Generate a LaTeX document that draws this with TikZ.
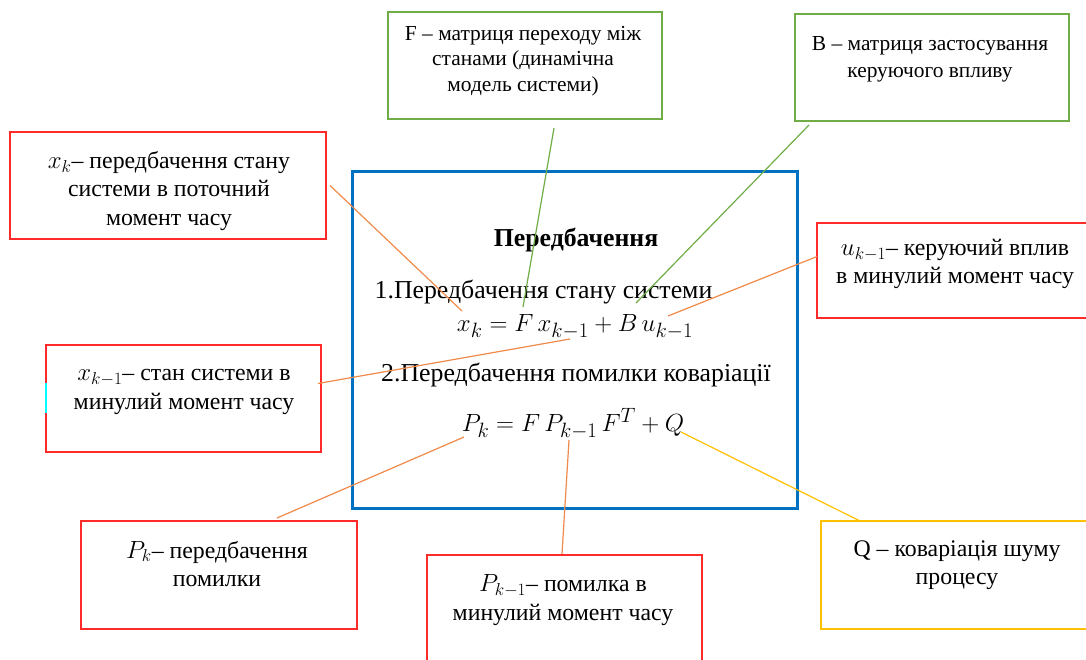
\documentclass[tikz,border=0pt]{standalone}
\usepackage{fontspec}
\setmainfont{Liberation Serif}
\definecolor{cRed}{HTML}{FF2A2A}
\definecolor{cGreen}{HTML}{70AD47}
\definecolor{cBlue}{HTML}{0070C0}
\definecolor{cOrange}{HTML}{F08A4B}
\definecolor{cYellow}{HTML}{FFC000}
\definecolor{cCyan}{HTML}{00FFFF}
\tikzset{
  box/.style={draw, line width=1.5pt, inner sep=0pt, outer sep=0pt, rectangle},
  redbox/.style={box, draw=cRed},
  greenbox/.style={box, draw=cGreen},
  yellowbox/.style={box, draw=cYellow},
  mainbox/.style={box, draw=cBlue, line width=3pt},
  lbl/.style={align=center, font=\fontsize{23.8}{28.5}\selectfont, inner sep=0pt},
  glbl/.style={align=center, font=\fontsize{21.4}{26.5}\selectfont, inner sep=0pt},
  mtext/.style={align=center, font=\fontsize{25.8}{30}\selectfont, inner sep=0pt},
  mform/.style={align=center, font=\fontsize{27.5}{30}\selectfont, inner sep=0pt},
  conn/.style={line width=1.2pt, draw=cOrange},
  gconn/.style={conn, draw=cGreen},
  yconn/.style={conn, draw=cYellow},
}
\begin{document}
\begin{tikzpicture}[x=1pt,y=-1pt]
\useasboundingbox (0,0) rectangle (1086,659);
\clip (0,0) rectangle (1086,659);
\fill[white] (0,0) rectangle (1086,659);

% boxes
\node[greenbox, minimum width=274pt, minimum height=107pt] (boxF) at (525,65.5) {};
\node[greenbox, minimum width=274pt, minimum height=107pt] (boxB) at (932,67.5) {};
\node[redbox, minimum width=316pt, minimum height=107pt] (boxXk) at (168,185.5) {};
\node[mainbox, minimum width=444.5pt, minimum height=337pt] (boxMain) at (575,339.5) {};
\node[redbox, minimum width=278pt, minimum height=95pt] (boxU) at (956,270.5) {};
\node[redbox, minimum width=275pt, minimum height=107pt] (boxXk1) at (183.5,398.5) {};
\node[redbox, minimum width=276pt, minimum height=108pt] (boxPk) at (219,575) {};
\node[redbox, minimum width=275pt, minimum height=110pt] (boxPk1) at (564.5,610) {};
\node[yellowbox, minimum width=274pt, minimum height=108pt] (boxQ) at (958,575) {};
\draw[cCyan, line width=1.5pt] (boxXk1.west) ++(0,-15.5) -- ++(0,30);

% texts
\node[glbl, font=\fontsize{21.4}{25.5}\selectfont] (txtF) at (523,61) {F – матриця переходу між\\станами (динамічна\\модель системи)};
\node[glbl] (txtB) at (930,59.5) {B – матриця застосування\\керуючого впливу};
\node[lbl] (txtXk) at (169,191) {$x_k$– передбачення стану\\системи в поточний\\момент часу};
\node[lbl] (txtU) at (955,264) {$u_{k-1}$– керуючий вплив\\в минулий момент часу};
\node[lbl] (txtXk1) at (184,392) {$x_{k-1}$– стан системи в\\минулий момент часу};
\node[lbl] (txtPk) at (217,564) {$P_k$– передбачення\\помилки};
\node[lbl] (txtPk1) at (563,600) {$P_{k-1}$– помилка в\\минулий момент часу};
\node[lbl] (txtQ) at (957,565) {Q – коваріація шуму\\процесу};

\node[mtext, font=\fontsize{25.8}{30}\selectfont\bfseries] (title) at (576,240) {Передбачення};
\node[mtext] (line1) at (543.5,292) {1.Передбачення стану системи};
\node[mform] (form1) at (575,327) {$x_k = F\,x_{k-1} + B\,u_{k-1}$};
\node[mtext] (line2) at (576,375) {2.Передбачення помилки коваріації};
\node[mform] (form2) at (573,424) {$P_k = F\,P_{k-1}\,F^T + Q$};

% connector end points
\coordinate (eXk) at (462,311);
\coordinate (eF) at (523,307);
\coordinate (eB) at (636,303);
\coordinate (eU) at (668,316);
\coordinate (eXk1) at (570,339);
\coordinate (ePk) at (464,437);
\coordinate (ePk1) at (569,440);
\coordinate (eQ) at (681,432);

\coordinate (sXk) at ([xshift=4pt]boxXk.east);
\coordinate (sF) at ([xshift=29pt,yshift=-9pt]boxF.south);
\coordinate (sB) at ([xshift=14pt,yshift=-4pt]boxB.south west);
\coordinate (sU) at ([yshift=14pt]boxU.west);
\coordinate (sXk1) at ([xshift=-3pt,yshift=15pt]boxXk1.east);
\coordinate (sPk) at ([xshift=58pt,yshift=3pt]boxPk.north);
\coordinate (sPk1) at ([xshift=-2.5pt,yshift=1pt]boxPk1.north);
\coordinate (sQ) at ([xshift=39pt]boxQ.north west);

\draw[conn] (sXk) -- (eXk);
\draw[gconn] (sF) -- (eF);
\draw[gconn] (sB) -- (eB);
\draw[conn] (sU) -- (eU);
\draw[conn] (sXk1) -- (eXk1);
\draw[conn] (sPk) -- (ePk);
\draw[conn] (sPk1) -- (ePk1);
\draw[yconn] (sQ) -- (eQ);
\end{tikzpicture}
\end{document}
